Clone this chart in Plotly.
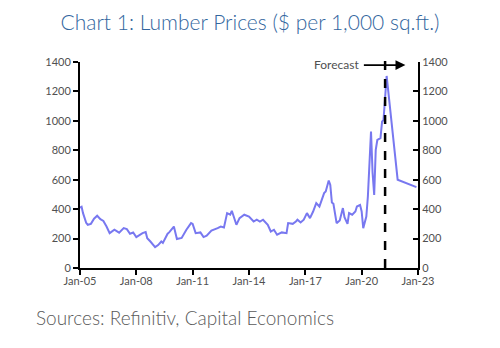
import plotly.graph_objects as go

# Lumber price history (US$ per 1,000 board feet)
hist_dates = [
    "2005-01-01", "2005-02-01", "2005-03-01", "2005-04-01", "2005-05-01", "2005-06-01",
    "2005-08-01", "2005-10-01", "2005-12-01", "2006-02-01", "2006-04-01", "2006-06-01",
    "2006-08-01", "2006-11-01", "2007-02-01", "2007-05-01", "2007-07-01", "2007-09-01",
    "2007-11-01", "2008-01-01", "2008-05-01", "2008-07-01", "2008-08-01", "2008-10-01",
    "2009-01-01", "2009-03-01", "2009-05-01", "2009-06-01", "2009-09-01", "2009-10-01",
    "2010-01-01", "2010-03-01", "2010-06-01", "2010-09-01", "2010-12-01", "2011-01-01",
    "2011-03-01", "2011-06-01", "2011-08-01", "2011-10-01", "2012-01-01", "2012-05-01",
    "2012-07-01", "2012-09-01", "2012-11-01", "2013-01-01", "2013-02-01", "2013-05-01",
    "2013-07-01", "2013-10-01", "2014-01-01", "2014-04-01", "2014-06-01", "2014-08-01",
    "2014-10-01", "2015-01-01", "2015-03-01", "2015-05-01", "2015-07-01", "2015-10-01",
    "2016-01-01", "2016-02-01", "2016-05-01", "2016-07-01", "2016-08-01", "2016-10-01",
    "2016-12-01", "2017-02-01", "2017-04-01", "2017-06-01", "2017-08-01", "2017-10-01",
    "2018-01-01", "2018-02-01", "2018-04-01", "2018-05-01", "2018-06-01", "2018-07-01",
    "2018-09-01", "2018-11-01", "2019-01-01", "2019-02-01", "2019-04-01", "2019-05-01",
    "2019-07-01", "2019-09-01", "2019-10-01", "2019-12-01", "2020-01-01", "2020-02-01",
    "2020-04-01", "2020-05-01", "2020-07-01", "2020-08-01", "2020-09-01", "2020-10-01",
    "2020-11-01", "2021-01-01", "2021-02-01", "2021-03-01", "2021-05-01",
]
hist_values = [
    410, 416, 373, 339, 307, 294,
    300, 335, 355, 332, 320, 282,
    237, 260, 240, 271, 264, 233,
    241, 210, 237, 244, 203, 180,
    142, 156, 180, 170, 233, 242,
    282, 197, 204, 260, 305, 300,
    237, 242, 210, 219, 255, 271,
    282, 276, 373, 362, 389, 294,
    339, 362, 350, 316, 328, 316,
    328, 294, 248, 260, 226, 242,
    237, 305, 300, 316, 328, 309,
    328, 373, 339, 384, 441, 418,
    509, 520, 594, 565, 445, 436,
    305, 323, 407, 346, 300, 373,
    362, 384, 418, 429, 384, 271,
    350, 486, 927, 645, 497, 803,
    870, 882, 995, 1006, 1305,
]

# Forecast path following the peak
fcst_dates = ["2021-12-01", "2022-12-01"]
fcst_values = [600, 550]

forecast_start = "2021-04-01"
y_ticks = [0, 200, 400, 600, 800, 1000, 1200, 1400]
x_ticks = ["2005-01-01", "2008-01-01", "2011-01-01", "2014-01-01",
           "2017-01-01", "2020-01-01", "2023-01-01"]
x_labels = ["Jan-05", "Jan-08", "Jan-11", "Jan-14", "Jan-17", "Jan-20", "Jan-23"]

dates = hist_dates + fcst_dates
values = hist_values + fcst_values

LINE = "#7878f0"
FONT = "Lato"
TICKC = "#505050"

fig = go.Figure()
fig.add_trace(go.Scatter(x=dates, y=values, mode="lines",
                         line=dict(color=LINE, width=2), showlegend=False,
                         hoverinfo="x+y"))
# mirror trace so the right-hand axis is drawn
fig.add_trace(go.Scatter(x=dates, y=values, mode="lines", yaxis="y2",
                         line=dict(color=LINE, width=0), opacity=0,
                         showlegend=False, hoverinfo="skip"))

axis_font = dict(family=FONT, size=11, color=TICKC)

fig.update_layout(
    width=500, height=348,
    margin=dict(l=80, r=82, t=62, b=80),
    paper_bgcolor="white", plot_bgcolor="white",
    font=dict(family=FONT),
    title=dict(text="Chart 1: Lumber Prices ($ per 1,000 sq.ft.)",
               x=0.5, xanchor="center", y=0.935, yanchor="middle",
               font=dict(family=FONT, size=21, color="#33669e", weight=300)),
    xaxis=dict(range=["2005-01-01", "2023-01-01"], tickvals=x_ticks,
               ticktext=x_labels, ticks="outside", ticklen=5, tickwidth=1.5,
               tickcolor="black", showline=True, linecolor="black",
               linewidth=2, showgrid=False, zeroline=False,
               ticklabelstandoff=-3, tickfont=axis_font),
    yaxis=dict(range=[0, 1400], tickvals=y_ticks, ticks="outside",
               ticklen=5, tickwidth=1.5, tickcolor="black", showline=True,
               linecolor="black", linewidth=2, showgrid=False,
               zeroline=False, tickfont=axis_font),
    yaxis2=dict(range=[0, 1400], tickvals=y_ticks, overlaying="y",
                side="right", ticks="inside", ticklen=5, tickwidth=1.5,
                tickcolor="black", showline=True, linecolor="black",
                linewidth=2, showgrid=False, zeroline=False,
                tickfont=axis_font),
)

# forecast divider
fig.add_shape(type="line", xref="x", yref="paper",
              x0=forecast_start, x1=forecast_start, y0=0, y1=1.045,
              line=dict(color="black", width=2.5, dash="dash"))

# forecast arrow and label
fig.add_annotation(xref="x", yref="y domain", axref="x", ayref="y domain",
                   x="2022-05-01", y=0.985, ax="2020-01-15", ay=0.985,
                   text="", showarrow=True, arrowhead=2, arrowsize=1.1,
                   arrowwidth=1.8, arrowcolor="black")
fig.add_annotation(xref="x", yref="paper", x="2019-12-15", y=0.99,
                   xanchor="right", yanchor="middle", showarrow=False,
                   text="Forecast",
                   font=dict(family=FONT, size=12, color=TICKC))

fig.add_annotation(xref="paper", yref="paper", x=-0.135, y=-0.24,
                   xanchor="left", yanchor="middle", showarrow=False,
                   text="Sources: Refinitiv, Capital Economics",
                   font=dict(family=FONT, size=19, color="#5a5a5a", weight=300))

fig.write_html("out.html")
